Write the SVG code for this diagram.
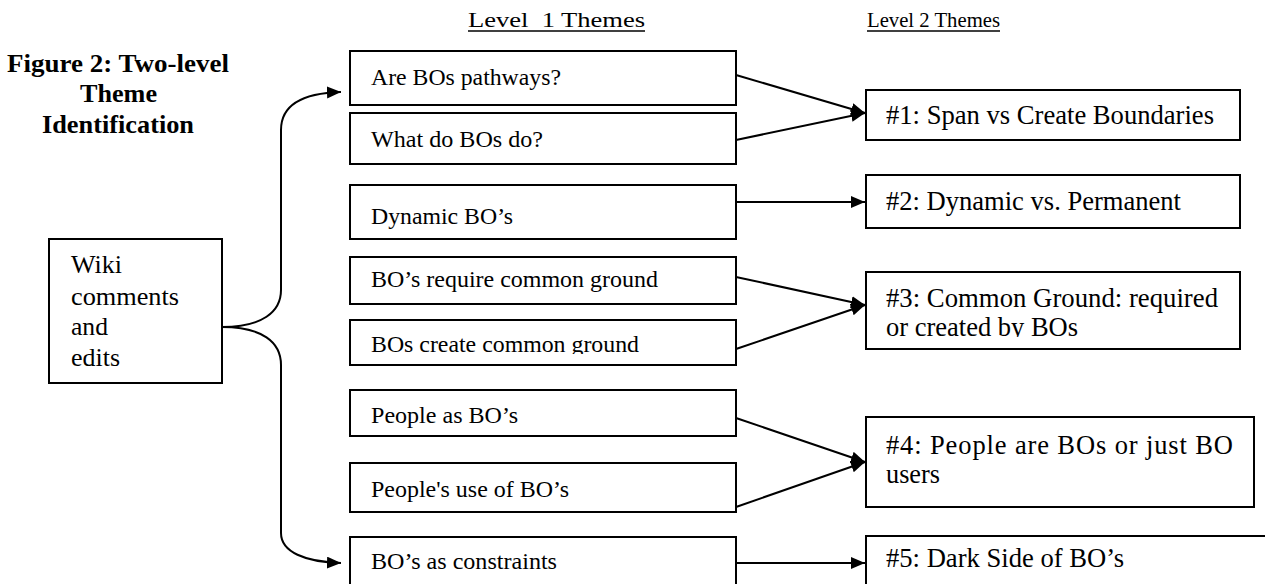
<svg xmlns="http://www.w3.org/2000/svg" width="1265" height="584" viewBox="0 0 1265 584">
<style>
.box{fill:#fff;stroke:#000;stroke-width:2}
.t{font-family:"Liberation Serif","Times New Roman",serif;fill:#000}
.l1{font-size:23.5px}
.l2{font-size:26.5px}
.w{font-size:26px}
.h{font-size:20.5px;white-space:pre}
.ti{font-size:26px;font-weight:bold}
.c{fill:none;stroke:#000;stroke-width:2}
.ul{stroke:#000;stroke-width:1.5}
</style>
<defs>
<marker id="ah" markerUnits="userSpaceOnUse" markerWidth="15" markerHeight="13" refX="14" refY="6" orient="auto">
<path d="M0,0 L14,6 L0,12 z" fill="#000"/>
</marker>
<clipPath id="clip5"><rect x="350" y="320" width="386" height="34"/></clipPath>
<clipPath id="clip3b"><rect x="866" y="272" width="374" height="65"/></clipPath>
</defs>

<g id="title">
<text class="t ti" x="7" y="72" textLength="222" lengthAdjust="spacingAndGlyphs">Figure 2: Two-level</text>
<text class="t ti" x="80" y="102" textLength="77" lengthAdjust="spacingAndGlyphs">Theme</text>
<text class="t ti" x="42" y="133" textLength="152" lengthAdjust="spacingAndGlyphs">Identification</text>
</g>

<g id="header1">
<text class="t h" x="468" y="27" textLength="177" lengthAdjust="spacingAndGlyphs">Level  1 Themes</text>
<line class="ul" x1="468" y1="31" x2="645" y2="31"/>
</g>
<g id="header2">
<text class="t h" x="867" y="27" textLength="133" lengthAdjust="spacingAndGlyphs">Level 2 Themes</text>
<line class="ul" x1="867" y1="31" x2="1000" y2="31"/>
</g>

<g id="wiki">
<rect class="box" x="49" y="239" width="173" height="144"/>
<text class="t w" x="71" y="273" textLength="51" lengthAdjust="spacingAndGlyphs">Wiki</text>
<text class="t w" x="71" y="305" textLength="108" lengthAdjust="spacingAndGlyphs">comments</text>
<text class="t w" x="71" y="335" textLength="37" lengthAdjust="spacingAndGlyphs">and</text>
<text class="t w" x="71" y="366" textLength="49" lengthAdjust="spacingAndGlyphs">edits</text>
</g>

<g id="l1-1">
<rect class="box" x="350" y="51" width="386" height="54"/>
<text class="t l1" x="371" y="85" textLength="190" lengthAdjust="spacingAndGlyphs">Are BOs pathways?</text>
</g>
<g id="l1-2">
<rect class="box" x="350" y="113" width="386" height="51"/>
<text class="t l1" x="371" y="147" textLength="172" lengthAdjust="spacingAndGlyphs">What do BOs do?</text>
</g>
<g id="l1-3">
<rect class="box" x="350" y="185" width="386" height="54"/>
<text class="t l1" x="371" y="224" textLength="142" lengthAdjust="spacingAndGlyphs">Dynamic BO’s</text>
</g>
<g id="l1-4">
<rect class="box" x="350" y="257" width="386" height="47"/>
<text class="t l1" x="371" y="287" textLength="287" lengthAdjust="spacingAndGlyphs">BO’s require common ground</text>
</g>
<g id="l1-5">
<rect class="box" x="350" y="320" width="386" height="45"/>
<text class="t l1" x="371" y="352" textLength="268" lengthAdjust="spacingAndGlyphs" clip-path="url(#clip5)">BOs create common ground</text>
</g>
<g id="l1-6">
<rect class="box" x="350" y="390" width="386" height="46"/>
<text class="t l1" x="371" y="423" textLength="147" lengthAdjust="spacingAndGlyphs">People as BO’s</text>
</g>
<g id="l1-7">
<rect class="box" x="350" y="463" width="386" height="49"/>
<text class="t l1" x="371" y="497" textLength="198" lengthAdjust="spacingAndGlyphs">People's use of BO’s</text>
</g>
<g id="l1-8">
<rect class="box" x="350" y="537" width="386" height="60"/>
<text class="t l1" x="371" y="569" textLength="186" lengthAdjust="spacingAndGlyphs">BO’s as constraints</text>
</g>

<g id="l2-1">
<rect class="box" x="866" y="90" width="374" height="50"/>
<text class="t l2" x="886" y="124" textLength="328" lengthAdjust="spacingAndGlyphs">#1: Span vs Create Boundaries</text>
</g>
<g id="l2-2">
<rect class="box" x="866" y="175" width="374" height="53"/>
<text class="t l2" x="886" y="210" textLength="295" lengthAdjust="spacingAndGlyphs">#2: Dynamic vs. Permanent</text>
</g>
<g id="l2-3">
<rect class="box" x="866" y="272" width="374" height="77"/>
<text class="t l2" x="886" y="307" textLength="332" lengthAdjust="spacingAndGlyphs">#3: Common Ground: required</text>
<text class="t l2" x="886" y="336" textLength="192" lengthAdjust="spacingAndGlyphs" clip-path="url(#clip3b)">or created by BOs</text>
</g>
<g id="l2-4">
<rect class="box" x="866" y="417" width="388" height="90"/>
<text class="t l2" x="886" y="454" textLength="347" lengthAdjust="spacing">#4: People are BOs or just BO</text>
<text class="t l2" x="886" y="483" textLength="54" lengthAdjust="spacingAndGlyphs">users</text>
</g>
<g id="l2-5">
<rect class="box" x="866" y="536" width="430" height="70"/>
<text class="t l2" x="886" y="567" textLength="238" lengthAdjust="spacingAndGlyphs">#5: Dark Side of BO’s</text>
</g>

<g id="connectors">
<path class="c" d="M222,327 C262,327 281,312 281,290 L281,130 C281,104 305,93 341,92" marker-end="url(#ah)"/>
<path class="c" d="M222,327 C262,327 281,342 281,365 L281,533 C281,552 305,562 341,563" marker-end="url(#ah)"/>
<line class="c" x1="736" y1="75" x2="865" y2="113" marker-end="url(#ah)"/>
<line class="c" x1="736" y1="140" x2="865" y2="113" marker-end="url(#ah)"/>
<line class="c" x1="736" y1="202" x2="865" y2="202" marker-end="url(#ah)"/>
<line class="c" x1="736" y1="277" x2="865" y2="305" marker-end="url(#ah)"/>
<line class="c" x1="736" y1="349" x2="865" y2="305" marker-end="url(#ah)"/>
<line class="c" x1="736" y1="418" x2="865" y2="462" marker-end="url(#ah)"/>
<line class="c" x1="736" y1="507" x2="865" y2="462" marker-end="url(#ah)"/>
<line class="c" x1="736" y1="563" x2="865" y2="563" marker-end="url(#ah)"/>
</g>
</svg>
